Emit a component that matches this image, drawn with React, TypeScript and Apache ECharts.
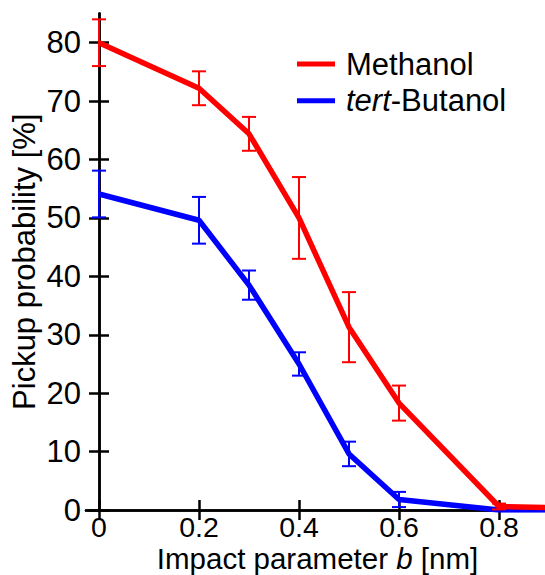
import React, { useEffect, useRef } from "react";
import * as echarts from "echarts";

const impactB = [0, 0.2, 0.3, 0.4, 0.5, 0.6, 0.8, 0.9];
const methanol = [80, 72.2, 64.4, 50, 31.3, 18.3, 0.6, 0.4];
const methanolErr = [4, 2.9, 2.9, 7, 6, 3, 0.5, 0];
const butanol = [54.1, 49.6, 38.5, 25, 9.6, 1.8, 0, 0];
const butanolErr = [4, 4, 2.5, 2, 2.1, 1.3, 0, 0];
const xTicks = [0, 0.2, 0.4, 0.6, 0.8];
const yTicks = [0, 10, 20, 30, 40, 50, 60, 70, 80];

const FONT = "Liberation Sans, Arial, Helvetica, sans-serif";
const FS = 31;

function errData(vals: number[], errs: number[]) {
  return impactB
    .map((x, i) => [x, vals[i] - errs[i], vals[i] + errs[i]])
    .filter((_, i) => errs[i] > 0);
}

function errSeries(name: string, color: string, vals: number[], errs: number[]) {
  return {
    type: "custom",
    name: name + " err",
    z: 4,
    data: errData(vals, errs),
    renderItem: (params: any, api: any) => {
      const x = api.value(0);
      const lo = api.coord([x, api.value(1)]);
      const hi = api.coord([x, api.value(2)]);
      const w = 7;
      const style = { stroke: color, lineWidth: 2 };
      return {
        type: "group",
        children: [
          { type: "line", shape: { x1: lo[0], y1: lo[1], x2: hi[0], y2: hi[1] }, style },
          { type: "line", shape: { x1: lo[0] - w, y1: lo[1], x2: lo[0] + w, y2: lo[1] }, style },
          { type: "line", shape: { x1: hi[0] - w, y1: hi[1], x2: hi[0] + w, y2: hi[1] }, style },
        ],
      };
    },
    silent: true,
  };
}

export default function App() {
  const ref = useRef<HTMLDivElement>(null);
  useEffect(() => {
    if (!ref.current) return;
    const chart = echarts.init(ref.current, null, { renderer: "svg" });
    const axisLine = { show: true, lineStyle: { color: "#000", width: 2.5 } };
    const tick = { show: true, inside: true, length: 10, lineStyle: { color: "#000", width: 2.5 } };
    chart.setOption({
      animation: false,
      backgroundColor: "#fff",
      textStyle: { fontFamily: FONT },
      grid: { left: 86, top: 13.5, right: -4, bottom: 65, outerBoundsMode: "none", containLabel: false },
      legend: {
        orient: "vertical",
        left: 297,
        top: 48.5,
        padding: 0,
        itemWidth: 38,
        itemHeight: 5,
        itemGap: 5.7,
        icon: "rect",
        data: ["Methanol", "tert-Butanol"],
        formatter: (n: string) => (n === "tert-Butanol" ? "{i|tert}-Butanol" : n),
        textStyle: {
          fontSize: FS,
          color: "#000",
          fontFamily: FONT,
          padding: [0, 0, 0, 6],
          rich: { i: { fontStyle: "italic", fontSize: FS, fontFamily: FONT, color: "#000" } },
        },
      },
      xAxis: [
        {
          type: "value",
          min: -0.026,
          max: 0.9,
          axisLine,
          axisTick: { ...tick, customValues: xTicks },
          splitLine: { show: false },
          axisLabel: {
            customValues: xTicks,
            fontSize: 28.5,
            lineHeight: 26,
            color: "#000",
            fontFamily: FONT,
            margin: 4,
            formatter: (v: number) => (v === 0 ? "0" : String(Math.round(v * 10) / 10)),
          },
          name: "Impact parameter {i|b} [nm]",
          nameLocation: "middle",
          nameGap: 35.5,
          nameMoveOverlap: false,
          nameTextStyle: {
            fontSize: 29.5,
            lineHeight: 26,
            color: "#000",
            fontFamily: FONT,
            rich: {
              i: { fontStyle: "italic", fontSize: 29.5, lineHeight: 26, fontFamily: FONT, color: "#000" },
            },
          },
        },
        {
          type: "value",
          position: "top",
          min: -0.026,
          max: 0.9,
          axisLine,
          axisTick: { ...tick, customValues: xTicks },
          axisLabel: { show: false },
          splitLine: { show: false },
        },
      ],
      yAxis: [
        {
          type: "value",
          min: 0,
          max: 85,
          axisLine,
          axisTick: { ...tick, customValues: yTicks },
          splitLine: { show: false },
          axisLabel: {
            customValues: yTicks,
            fontSize: FS,
            color: "#000",
            fontFamily: FONT,
            margin: 5,
          },
          name: "Pickup probability [%]",
          nameLocation: "middle",
          nameGap: 46,
          nameMoveOverlap: false,
          nameTextStyle: { fontSize: FS, color: "#000", fontFamily: FONT },
        },
        {
          type: "value",
          position: "right",
          min: 0,
          max: 85,
          axisLine,
          axisTick: { ...tick, customValues: yTicks },
          axisLabel: { show: false },
          splitLine: { show: false },
        },
      ],
      series: [
        {
          type: "line",
          name: "tert-Butanol",
          data: impactB.map((x, i) => [x, butanol[i]]),
          showSymbol: false,
          lineStyle: { color: "#0000ff", width: 5.5 },
          itemStyle: { color: "#0000ff" },
          z: 2,
        },
        {
          type: "line",
          name: "Methanol",
          data: impactB.map((x, i) => [x, methanol[i]]),
          showSymbol: false,
          lineStyle: { color: "#ff0000", width: 5.5 },
          itemStyle: { color: "#ff0000" },
          z: 3,
        },
        errSeries("tert-Butanol", "#0000ff", butanol, butanolErr),
        errSeries("Methanol", "#ff0000", methanol, methanolErr),
      ],
    });
    return () => chart.dispose();
  }, []);
  return (
    <div
      ref={ref}
      style={{ position: "absolute", left: 0, top: 0, width: 545, height: 575 }}
    />
  );
}
